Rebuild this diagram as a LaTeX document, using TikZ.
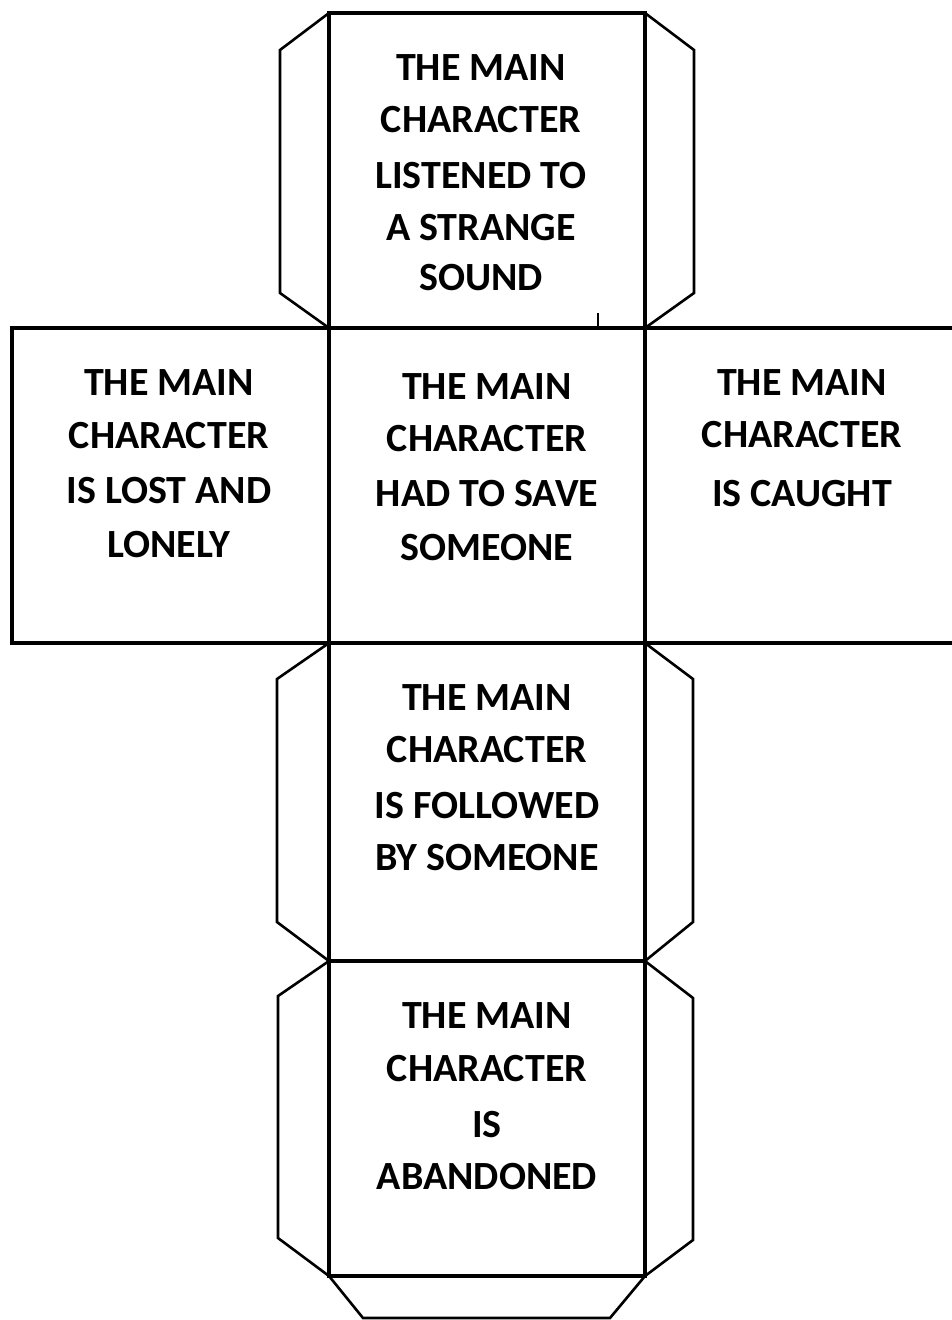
\documentclass[tikz,border=0pt]{standalone}
\usepackage{fontspec}
\setmainfont{Carlito}
\begin{document}
\begin{tikzpicture}[x=1pt,y=-1pt,
  face/.style={line width=3.6pt,line join=miter},
  tab/.style={line width=2.6pt,line join=miter},
  lbl/.style={font=\bfseries\fontsize{40}{52}\selectfont,align=center,inner sep=0pt,anchor=center}]
\useasboundingbox (0,0) rectangle (952,1320);
\fill[white] (0,0) rectangle (952,1320);
\begin{scope}
\clip (0,0) rectangle (952,1320);
% tabs
\draw[tab] (329,13) -- (280,50) -- (280,293) -- (329,328);
\draw[tab] (645,13) -- (694,50) -- (694,293) -- (645,328);
\draw[tab] (329,643) -- (277,679) -- (277,922) -- (329,961);
\draw[tab] (645,643) -- (693,679) -- (693,922) -- (645,961);
\draw[tab] (329,961) -- (278,996) -- (278,1238) -- (329,1276);
\draw[tab] (645,961) -- (693,998) -- (693,1240) -- (645,1276);
\draw[tab] (329,1276) -- (363,1318) -- (610,1318) -- (645,1276);
% faces
\draw[face] (329,13) rectangle (645,328);
\draw[face] (12,328) rectangle (329,643);
\draw[face] (329,328) rectangle (645,643);
\draw[face] (645,328) -- (960,328) (645,643) -- (960,643);
\draw[face] (329,643) rectangle (645,961);
\draw[face] (329,961) rectangle (645,1276);
\draw[line width=1.6pt] (598,313) -- (598,328);
\end{scope}
% labels
\node[lbl] (ttop) at (481,173) {THE MAIN\\CHARACTER\\[4pt]LISTENED TO\\A STRANGE\\[-2pt]SOUND};
\node[lbl] (tleft) at (169,464) {THE MAIN\\[1pt]CHARACTER\\[3pt]IS LOST AND\\[2pt]LONELY};
\node[lbl] (tmid) at (487,467.5) {THE MAIN\\CHARACTER\\[3pt]HAD TO SAVE\\[2pt]SOMEONE};
\node[lbl] (tright) at (802,438.5) {THE MAIN\\CHARACTER\\[7pt]IS CAUGHT};
\node[lbl] (tlow) at (487,778) {THE MAIN\\CHARACTER\\[4pt]IS FOLLOWED\\BY SOMEONE};
\node[lbl] (tbot) at (487,1096.5) {THE MAIN\\[1pt]CHARACTER\\[4pt]IS\\ABANDONED};
\end{tikzpicture}
\end{document}
